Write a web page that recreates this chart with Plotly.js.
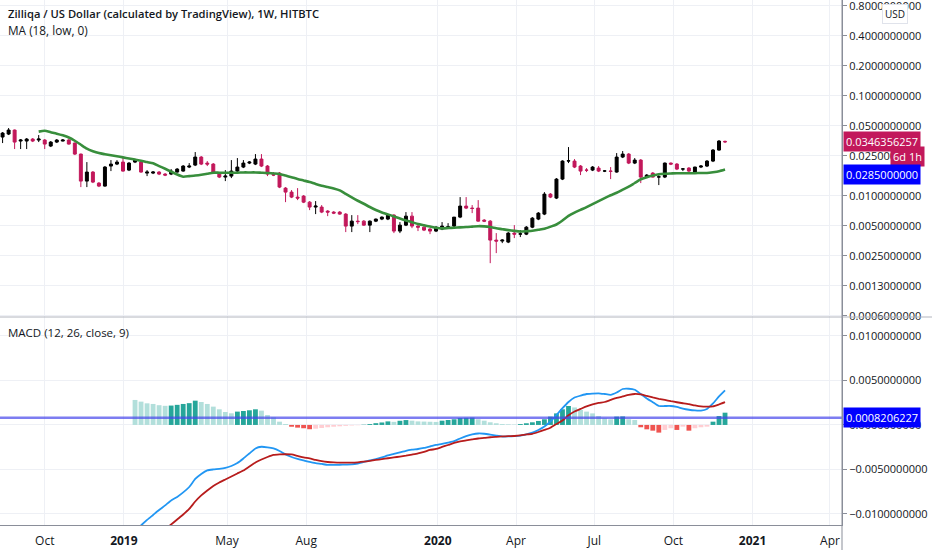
<!DOCTYPE html>
<html><head><meta charset="utf-8">
<script src="https://cdn.plot.ly/plotly-3.0.1.min.js"></script>
<style>html,body{margin:0;padding:0;background:#fff}#chart{width:932px;height:550px}</style>
</head><body><div id="chart"></div>
<script>
// ---- Data (weekly bars, first bar week of 2018-08-13) ----
const firstBar = [2018, 7, 13];
const openP = [0.03866,0.04143,0.04544,0.03525,0.03525,0.03692,0.03607,0.03607,0.03141,0.03444,
0.03525,0.03607,0.03366,0.02611,0.01400,0.01724,0.01337,0.01248,0.01980,0.02073,
0.02171,0.01805,0.02171,0.02171,0.01684,0.01684,0.01724,0.01646,0.01646,0.01724,
0.01764,0.01935,0.02026,0.02437,0.02121,0.02073,0.01684,0.01536,0.01571,0.01764,
0.01935,0.02121,0.02073,0.02327,0.01980,0.01646,0.01684,0.01191,0.01086,0.00968,
0.00991,0.00862,0.00769,0.00769,0.00701,0.00685,0.00685,0.00654,0.00496,0.00556,
0.00556,0.00507,0.00556,0.00583,0.00583,0.00639,0.00442,0.00507,0.00624,0.00496,
0.00484,0.00463,0.00442,0.00463,0.00484,0.00496,0.00610,0.00787,0.00751,0.00751,
0.00569,0.00556,0.00359,0.00351,0.00343,0.00422,0.00412,0.00412,0.00484,0.00583,
0.00654,0.01037,0.00946,0.01466,0.02221,0.02221,0.01980,0.01805,0.01805,0.01890,
0.01764,0.01764,0.01724,0.02437,0.02611,0.02121,0.02273,0.01536,0.01684,0.01536,
0.01536,0.02121,0.02073,0.01847,0.01890,0.01724,0.01935,0.01980,0.02221,0.02864,
0.03500];
const highP = [0.04339,0.04759,0.04600,0.03692,0.03778,0.03778,0.04049,0.03692,0.03525,0.03692,
0.03692,0.03692,0.03400,0.02640,0.02171,0.01764,0.01368,0.01980,0.02273,0.02273,
0.02437,0.02171,0.02327,0.02273,0.01805,0.01764,0.01764,0.01684,0.01847,0.01890,
0.02026,0.02121,0.02735,0.02494,0.02221,0.02121,0.01700,0.01805,0.02273,0.02381,
0.02273,0.02221,0.02611,0.02611,0.02026,0.01724,0.01724,0.01219,0.01138,0.01191,
0.01014,0.00883,0.00883,0.00805,0.00717,0.00701,0.00701,0.00669,0.00639,0.00639,
0.00569,0.00565,0.00590,0.00620,0.00654,0.00654,0.00544,0.00685,0.00685,0.00507,
0.00496,0.00473,0.00496,0.00544,0.00531,0.00569,0.00968,0.00968,0.00805,0.00903,
0.00583,0.00569,0.00422,0.00367,0.00432,0.00507,0.00452,0.00496,0.00610,0.00685,
0.01086,0.01062,0.01501,0.02260,0.03069,0.02327,0.02026,0.01890,0.01980,0.01980,
0.01805,0.01935,0.02672,0.02799,0.02672,0.02381,0.02327,0.01646,0.01724,0.01608,
0.02150,0.02150,0.02121,0.01890,0.01935,0.01950,0.02026,0.02273,0.02931,0.03607,
0.03560];
const lowP = [0.03366,0.04049,0.02931,0.02931,0.02931,0.03444,0.03444,0.02931,0.03069,0.03366,
0.03500,0.03250,0.02552,0.01219,0.01219,0.01337,0.01219,0.01230,0.01764,0.02026,
0.01740,0.01764,0.02121,0.01700,0.01571,0.01646,0.01608,0.01571,0.01608,0.01700,
0.01740,0.01890,0.01980,0.02026,0.01980,0.01646,0.01501,0.01400,0.01501,0.01724,
0.01890,0.02073,0.02026,0.01935,0.01571,0.01571,0.01191,0.00862,0.00946,0.00903,
0.00843,0.00717,0.00654,0.00669,0.00624,0.00654,0.00645,0.00432,0.00432,0.00519,
0.00500,0.00432,0.00544,0.00569,0.00569,0.00422,0.00422,0.00496,0.00473,0.00442,
0.00442,0.00412,0.00432,0.00452,0.00463,0.00484,0.00596,0.00734,0.00669,0.00550,
0.00544,0.00211,0.00266,0.00335,0.00335,0.00376,0.00385,0.00403,0.00473,0.00569,
0.00639,0.00946,0.00925,0.01433,0.02121,0.01890,0.01608,0.01724,0.01764,0.01724,
0.01724,0.01466,0.01700,0.02381,0.02073,0.02073,0.01337,0.01501,0.01520,0.01277,
0.01501,0.02026,0.01805,0.01764,0.01724,0.01700,0.01890,0.01935,0.02171,0.02820,
0.03366];
const closeP = [0.04240,0.04544,0.03444,0.03607,0.03692,0.03525,0.03692,0.03289,0.03444,0.03607,
0.03607,0.03289,0.02611,0.01400,0.01724,0.01368,0.01248,0.01935,0.02073,0.02171,
0.01764,0.02121,0.02273,0.01724,0.01724,0.01724,0.01646,0.01608,0.01764,0.01847,
0.01980,0.01980,0.02437,0.02073,0.02073,0.01684,0.01536,0.01571,0.01764,0.01935,
0.02121,0.02171,0.02327,0.01980,0.01646,0.01608,0.01219,0.01086,0.00968,0.00946,
0.00862,0.00769,0.00787,0.00685,0.00685,0.00669,0.00654,0.00496,0.00556,0.00550,
0.00507,0.00556,0.00583,0.00610,0.00639,0.00442,0.00507,0.00624,0.00496,0.00484,
0.00452,0.00442,0.00484,0.00496,0.00488,0.00610,0.00787,0.00751,0.00745,0.00556,
0.00556,0.00359,0.00351,0.00359,0.00422,0.00412,0.00415,0.00484,0.00596,0.00669,
0.01037,0.00968,0.01466,0.02221,0.02240,0.01935,0.01764,0.01800,0.01935,0.01764,
0.01770,0.01755,0.02437,0.02611,0.02121,0.02273,0.01536,0.01608,0.01536,0.01545,
0.02121,0.02073,0.01847,0.01855,0.01764,0.01935,0.01980,0.02221,0.02864,0.03525,
0.03464];

// MA (18, low, 0) as drawn, starting at bar 6
const maStart = 6;
const maLow = [0.0438,0.0447,0.0432,0.0418,0.0402,0.0383,0.0355,0.0324,0.0296,0.0279,
0.0267,0.0260,0.0254,0.0248,0.0242,0.0236,0.0230,0.0224,0.0217,0.0211,
0.0198,0.0186,0.0174,0.0163,0.0155,0.0157,0.0159,0.0162,0.0166,0.0170,
0.0170,0.0170,0.0170,0.0170,0.0171,0.0171,0.0171,0.0170,0.0169,0.0167,
0.0165,0.0159,0.0153,0.0147,0.0142,0.0137,0.0131,0.0126,0.0122,0.0118,
0.0113,0.0104,0.0096,0.0089,0.0083,0.0077,0.0072,0.0068,0.0065,0.0062,
0.0059,0.00565,0.00543,0.00520,0.00505,0.00491,0.00478,0.00471,0.00474,0.00478,
0.00482,0.00485,0.00490,0.00495,0.00493,0.00485,0.00472,0.00462,0.00452,0.00444,
0.00438,0.00441,0.00445,0.00456,0.00467,0.00489,0.00515,0.00564,0.00627,0.00678,
0.00722,0.00769,0.00824,0.00883,0.00946,0.0101,0.0107,0.0115,0.0123,0.0134,
0.0146,0.0153,0.0159,0.0164,0.0166,0.0167,0.0168,0.0168,0.0168,0.0168,
0.0169,0.0169,0.0172,0.0176,0.0183];

// MACD (12, 26, close, 9)
const macdStart = 22;
const macdLine = [-0.01191,-0.01129,-0.01067,-0.01011,-0.00955,-0.00904,-0.00848,-0.00809,-0.00758,-0.00697,
-0.00607,-0.00551,-0.00511,-0.00500,-0.00494,-0.00483,-0.00461,-0.00427,-0.00376,-0.00320,
-0.00264,-0.00245,-0.00251,-0.00264,-0.00292,-0.00331,-0.00360,-0.00382,-0.00399,-0.00416,
-0.00429,-0.00438,-0.00449,-0.00449,-0.00447,-0.00445,-0.00443,-0.00433,-0.00416,-0.00399,
-0.00384,-0.00365,-0.00343,-0.00326,-0.00308,-0.00290,-0.00278,-0.00270,-0.00258,-0.00242,
-0.00225,-0.00213,-0.00198,-0.00182,-0.00152,-0.00126,-0.00107,-0.00096,-0.00099,-0.00109,
-0.00120,-0.00130,-0.00129,-0.00126,-0.00121,-0.00107,-0.00087,-0.00056,-0.00017,0.00039,
0.00112,0.00188,0.00258,0.00309,0.00329,0.00348,0.00353,0.00356,0.00348,0.00339,
0.00365,0.00404,0.00407,0.00396,0.00348,0.00298,0.00256,0.00213,0.00213,0.00213,
0.00202,0.00184,0.00171,0.00163,0.00162,0.00180,0.00242,0.00320,0.00388];
const signalStart = 26;
const signalLine = [-0.01225,-0.01174,-0.01118,-0.01062,-0.01006,-0.00944,-0.00860,-0.00792,-0.00736,-0.00685,
-0.00646,-0.00612,-0.00579,-0.00545,-0.00511,-0.00466,-0.00421,-0.00388,-0.00360,-0.00337,
-0.00331,-0.00329,-0.00331,-0.00348,-0.00365,-0.00376,-0.00393,-0.00407,-0.00416,-0.00421,
-0.00424,-0.00424,-0.00424,-0.00420,-0.00413,-0.00404,-0.00393,-0.00384,-0.00374,-0.00365,
-0.00355,-0.00345,-0.00333,-0.00320,-0.00303,-0.00281,-0.00270,-0.00247,-0.00225,-0.00202,
-0.00185,-0.00174,-0.00163,-0.00152,-0.00146,-0.00138,-0.00133,-0.00129,-0.00126,-0.00124,
-0.00118,-0.00107,-0.00099,-0.00079,-0.00056,-0.00031,0.00011,0.00051,0.00109,0.00152,
0.00180,0.00208,0.00230,0.00247,0.00258,0.00281,0.00303,0.00320,0.00337,0.00348,
0.00343,0.00326,0.00309,0.00294,0.00281,0.00267,0.00255,0.00244,0.00233,0.00219,
0.00208,0.00206,0.00208,0.00230,0.00256];
const histStart = 22;
const histogram = [0.00281,0.00262,0.00243,0.00236,0.00222,0.00215,0.00218,0.00226,0.00236,0.00245,
0.00273,0.00258,0.00236,0.00206,0.00176,0.00146,0.00131,0.00150,0.00157,0.00165,
0.00176,0.00161,0.00112,0.00086,0.00037,0.00011,-0.00020,-0.00030,-0.00037,-0.00048,
-0.00042,-0.00034,-0.00026,-0.00020,-0.00015,-0.00010,-0.00006,-0.00003,0.00003,0.00010,
0.00020,0.00028,0.00040,0.00035,0.00047,0.00055,0.00048,0.00040,0.00038,0.00036,
0.00034,0.00048,0.00056,0.00064,0.00078,0.00080,0.00083,0.00064,0.00048,0.00030,
0.00019,0.00010,0.00007,0.00004,0.00010,0.00019,0.00030,0.00045,0.00064,0.00094,
0.00130,0.00176,0.00213,0.00197,0.00169,0.00150,0.00130,0.00101,0.00075,0.00064,
0.00094,0.00096,0.00064,0.00056,-0.00026,-0.00049,-0.00064,-0.00086,-0.00056,-0.00037,
-0.00056,-0.00019,-0.00064,-0.00037,-0.00026,-0.00019,0.00037,0.00100,0.00138];

const levelPrice = 0.0285;
const levelMacd = 0.0008206227;
const lastPrice = 0.0346356257;
const countdown = '6d 1h';

const xTickVals = ['2018-10-01','2019-01-01','2019-05-01','2019-08-01','2020-01-01','2020-04-01','2020-07-01','2020-10-01','2021-01-01','2021-04-01'];
const xTickText = ['Oct','<b>2019</b>','May','Aug','<b>2020</b>','Apr','Jul','Oct','<b>2021</b>','Apr'];
const yTickVals = [0.8,0.4,0.2,0.1,0.05,0.025,0.01,0.005,0.0025,0.00125,0.000625];
const yTickText = ['0.8000000000','0.4000000000','0.2000000000','0.1000000000','0.0500000000','0.0250000000','0.0100000000','0.0050000000','0.0025000000','0.0013000000','0.0006000000'];
const y2TickVals = [0.01,0.005,0,-0.005,-0.01];
const y2TickText = ['0.0100000000','0.0050000000','0.0000000000','\u22120.0050000000','\u22120.0100000000'];

// ---- Build ----
function dateAt(i){
  const t = Date.UTC(firstBar[0], firstBar[1], firstBar[2]) + i*7*86400000;
  return new Date(t).toISOString().slice(0,10);
}
const dates = openP.map((_, i) => dateAt(i));
const sub = (start, arr) => arr.map((_, k) => dateAt(start + k));
const histColors = histogram.map((v, k) => {
  const prev = k > 0 ? histogram[k-1] : Infinity;
  if (v >= 0) return v > prev ? '#26a69a' : '#b2dfdb';
  return v < prev ? '#ef5350' : '#ffcdd2';
});

const traces = [
  {type:'candlestick', x:dates, open:openP, high:highP, low:lowP, close:closeP,
   xaxis:'x', yaxis:'y', whiskerwidth:0,
   increasing:{line:{color:'#000000', width:1}, fillcolor:'#000000'},
   decreasing:{line:{color:'#c2185b', width:1}, fillcolor:'#c2185b'},
   hoverinfo:'skip'},
  {type:'scatter', mode:'lines', x:sub(maStart, maLow), y:maLow, xaxis:'x', yaxis:'y',
   line:{color:'#388e3c', width:2.6, shape:'spline', smoothing:0.6}, hoverinfo:'skip'},
  {type:'bar', x:sub(histStart, histogram), y:histogram, xaxis:'x', yaxis:'y2',
   marker:{color:histColors, line:{width:0}}, hoverinfo:'skip'},
  {type:'scatter', mode:'lines', x:sub(macdStart, macdLine), y:macdLine, xaxis:'x', yaxis:'y2',
   line:{color:'#2196f3', width:1.8, shape:'spline', smoothing:0.5}, hoverinfo:'skip'},
  {type:'scatter', mode:'lines', x:sub(signalStart, signalLine), y:signalLine, xaxis:'x', yaxis:'y2',
   line:{color:'#b71c1c', width:1.8, shape:'spline', smoothing:0.5}, hoverinfo:'skip'}
];

const H = 525; // plot-area height in px
const split = 1 - 317/H;
const axisGrey = '#8a8e99';
const gridCol = '#eef0f5';
const textCol = '#131722';
const fontFam = '"Open Sans", Roboto, "DejaVu Sans", sans-serif';

const layout = {
  width:932, height:550,
  margin:{l:0, r:90, t:0, b:25},
  paper_bgcolor:'#ffffff', plot_bgcolor:'#ffffff',
  showlegend:false, bargap:0.2, dragmode:false,
  font:{family:fontFam, size:11, color:textCol},
  xaxis:{type:'date', range:['2018-08-10','2021-04-15'], anchor:'y2',
    tickmode:'array', tickvals:xTickVals, ticktext:xTickText,
    showgrid:true, gridcolor:gridCol, gridwidth:1,
    showline:true, linecolor:axisGrey, linewidth:1, ticks:'', ticklabelstandoff:5,
    tickfont:{size:12, color:textCol}, rangeslider:{visible:false}, fixedrange:true, zeroline:false},
  yaxis:{type:'log', domain:[split, 1], range:[-3.215, -0.04], side:'right', anchor:'x',
    tickmode:'array', tickvals:yTickVals, ticktext:yTickText, ticklabeloverflow:'allow',
    showgrid:true, gridcolor:gridCol, ticks:'outside', ticklen:4, tickcolor:axisGrey,
    showline:true, linecolor:axisGrey, zeroline:false, fixedrange:true,
    tickfont:{size:11, color:textCol}},
  yaxis2:{domain:[0, split], range:[-0.01124, 0.01213], side:'right', anchor:'x',
    tickmode:'array', tickvals:y2TickVals, ticktext:y2TickText, ticklabeloverflow:'allow',
    showgrid:true, gridcolor:gridCol, ticks:'outside', ticklen:4, tickcolor:axisGrey,
    showline:true, linecolor:axisGrey, zeroline:false, fixedrange:true,
    tickfont:{size:11, color:textCol}},
  shapes:[
    {type:'line', layer:'above', xref:'paper', x0:0, x1:1, yref:'y', y0:Math.log10(lastPrice), y1:Math.log10(lastPrice),
     line:{color:'rgba(233,30,99,0.45)', width:1, dash:'dot'}},
    {type:'line', layer:'above', xref:'paper', x0:0, x1:1, yref:'y', y0:Math.log10(levelPrice), y1:Math.log10(levelPrice),
     line:{color:'rgba(70,70,235,0.7)', width:2.5}},
    {type:'line', layer:'above', xref:'paper', x0:0, x1:1, yref:'y2', y0:levelMacd, y1:levelMacd,
     line:{color:'rgba(70,70,235,0.7)', width:2.5}},
    {type:'line', layer:'above', xref:'paper', x0:0, x1:1.107, yref:'paper', y0:split, y1:split,
     line:{color:'#b2b5be', width:1}},
    {type:'line', layer:'above', xref:'paper', x0:1, x1:1, yref:'paper', y0:-0.05, y1:1,
     line:{color:axisGrey, width:1}}
  ],
  annotations:[
    {xref:'paper', yref:'paper', x:0, y:1, xanchor:'left', yanchor:'top', xshift:6, yshift:-4, showarrow:false,
     text:'Zilliqa / US Dollar (calculated by TradingView), 1W, HITBTC', font:{size:11.2, weight:600, color:textCol}},
    {xref:'paper', yref:'paper', x:0, y:1, xanchor:'left', yanchor:'top', xshift:6, yshift:-20, showarrow:false,
     text:'MA (18, low, 0)', font:{size:11.8, color:textCol}},
    {xref:'paper', yref:'paper', x:0, y:1 - 332/H, xanchor:'left', yanchor:'middle', xshift:6, showarrow:false,
     text:'MACD (12, 26, close, 9)', font:{size:11.5, color:textCol}},
    {xref:'paper', yref:'paper', x:895/842, y:1 - 14/H, xanchor:'center', yanchor:'middle', showarrow:false,
     text:'USD', font:{size:10, color:textCol}, bgcolor:'#ffffff', bordercolor:'#e0e3eb', borderwidth:1, borderpad:2},
    {xref:'paper', yref:'y', x:1, y:Math.log10(lastPrice), xanchor:'left', yanchor:'middle', xshift:1, showarrow:false,
     text:lastPrice.toFixed(10), font:{size:11, color:'#ffffff'}, bgcolor:'#c2185b', borderpad:2},
    {xref:'paper', yref:'paper', x:925/842, y:1 - 157/H, xanchor:'right', yanchor:'middle', showarrow:false,
     text:countdown, font:{size:11, color:'#ffffff'}, bgcolor:'#c2185b', borderpad:2},
    {xref:'paper', yref:'paper', x:1, y:1 - 174/H, xanchor:'left', yanchor:'middle', xshift:1, showarrow:false,
     text:levelPrice.toFixed(10), font:{size:11, color:'#ffffff'}, bgcolor:'#0000ff', borderpad:2},
    {xref:'paper', yref:'y2', x:1, y:levelMacd, xanchor:'left', yanchor:'middle', xshift:1, showarrow:false,
     text:levelMacd.toFixed(10), font:{size:11, color:'#ffffff'}, bgcolor:'#0000ff', borderpad:2}
  ]
};

Plotly.newPlot('chart', traces, layout, {displayModeBar:false, staticPlot:true});
</script>
</body></html>
